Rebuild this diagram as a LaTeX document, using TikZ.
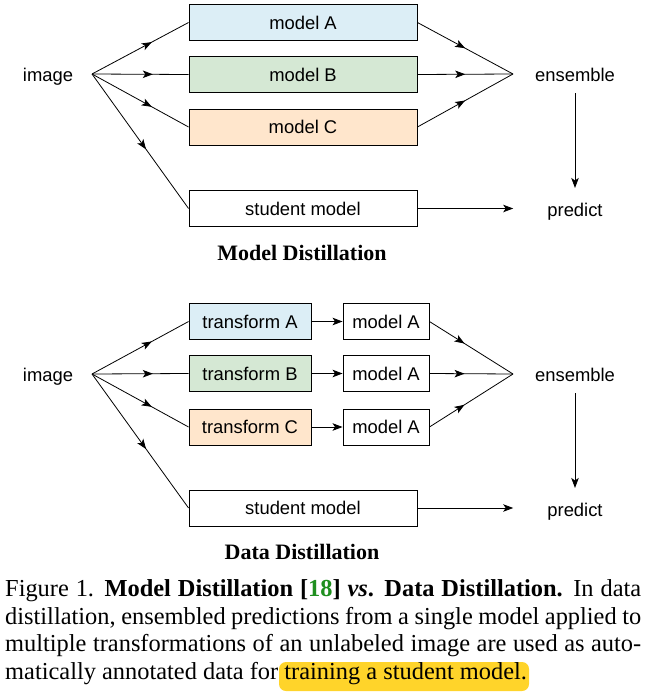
\documentclass[tikz,border=0pt]{standalone}
\usepackage{fontspec}
\setmainfont{Liberation Serif}
\newfontfamily\diagfont{Liberation Sans}
\usetikzlibrary{arrows.meta,decorations.markings}

\definecolor{boxblue}{HTML}{DCEEF6}
\definecolor{boxgreen}{HTML}{D5E8D4}
\definecolor{boxorange}{HTML}{FFE6CC}
\definecolor{citegreen}{HTML}{1F8F1F}
\definecolor{marker}{HTML}{FFD42A}

\tikzset{
  box/.style={draw, line width=0.9pt, minimum height=36pt, inner sep=0pt,
    font=\diagfont\fontsize{18.4}{22}\selectfont},
  lbl/.style={font=\diagfont\fontsize{18.4}{22}\selectfont, inner sep=0pt, anchor=base},
  title/.style={font=\bfseries\fontsize{22}{26}\selectfont, inner sep=0pt},
  tip/.style={-{Stealth[length=10pt,width=7.5pt,inset=2.5pt]}},
  midarrow/.style={line width=0.8pt, postaction={decorate},
    decoration={markings, mark=at position #1 with {\arrow{Stealth[length=10pt,width=7.5pt,inset=2.5pt]}}}}
}

\begin{document}
\begin{tikzpicture}[x=1pt, y=-1pt]
  \useasboundingbox (0,0) rectangle (646,696);

  % model distillation
  \node[lbl] (imgA) at (48,81.7) {image};
  \coordinate (fanA) at (92,74);
  \node[box, minimum width=228pt, fill=boxblue] (mA) at (303,22.5) {model A};
  \node[box, minimum width=228pt, fill=boxgreen] (mB) at (303,74.5) {model B};
  \node[box, minimum width=228pt, fill=boxorange] (mC) at (303,127) {model C};
  \node[box, minimum width=228pt] (sA) at (303,208.5) {student model};
  \coordinate (joinA) at (513,74);
  \node[lbl] (ensA) at (575,81.5) {ensemble};
  \node[lbl] (predA) at (575,216) {predict};

  \foreach \dst/\pos in {mA/0.62, mB/0.63, mC/0.62, sA/0.56}
    \path (fanA) edge[midarrow=\pos] (\dst.west);
  \foreach \src in {mA, mB, mC}
    \path (\src.east) edge[midarrow=0.5] (joinA);
  \draw[tip, line width=0.8pt, shorten <=11.5pt, shorten >=14.5pt] (ensA) -- (predA);
  \draw[tip, line width=0.8pt, shorten >=34pt] (sA.east) -- (sA.east -| predA.west);

  \node[title] (tA) at (302,253) {Model Distillation};

  % data distillation
  \node[lbl] (imgB) at (48,381.7) {image};
  \coordinate (fanB) at (92,374);
  \node[box, minimum width=122pt, fill=boxblue] (trA) at (250,321.5) {transform A};
  \node[box, minimum width=122pt, fill=boxgreen] (trB) at (250,373.5) {transform B};
  \node[box, minimum width=122pt, fill=boxorange] (trC) at (250,427) {transform C};
  \node[box, minimum width=86pt] (mdA) at (386,321.5) {model A};
  \node[box, minimum width=86pt] (mdB) at (386,373.5) {model A};
  \node[box, minimum width=86pt] (mdC) at (386,427) {model A};
  \node[box, minimum width=228pt] (sB) at (303,508) {student model};
  \coordinate (joinB) at (513,374);
  \node[lbl] (ensB) at (575,381.5) {ensemble};
  \node[lbl] (predB) at (575,516.5) {predict};

  \foreach \dst/\pos in {trA/0.62, trB/0.63, trC/0.62, sB/0.56}
    \path (fanB) edge[midarrow=\pos] (\dst.west);
  \foreach \src/\dst in {trA/mdA, trB/mdB, trC/mdC}
    \draw[tip, line width=0.8pt] (\src) -- (\dst);
  \foreach \src in {mdA, mdB, mdC}
    \path (\src.east) edge[midarrow=0.42] (joinB);
  \draw[tip, line width=0.8pt, shorten <=11.5pt, shorten >=15pt] (ensB) -- (predB);
  \draw[tip, line width=0.8pt, shorten >=34pt] (sB.east) -- (sB.east -| predB.west);

  \node[title] (tB) at (302,552) {Data Distillation};

  % caption
  \node[fill=marker, rounded corners=7pt, minimum width=250pt, minimum height=29pt, inner sep=0pt] (hl) at (404,676.5) {};
  \node[anchor=north west, text width=636pt, align=justify, inner sep=0pt,
    font=\fontsize{24.4}{27.4}\selectfont] (cap) at (5,579.8) {Figure 1. \textbf{Model Distillation [\textcolor{citegreen}{18}]} \textbf{\textit{vs}. Data Distillation.} In data\linebreak
    distillation, ensembled predictions from a single model applied to\linebreak
    multiple transformations of an unlabeled image are used as auto-\linebreak
    matically annotated data for training a student model.};
\end{tikzpicture}
\end{document}
